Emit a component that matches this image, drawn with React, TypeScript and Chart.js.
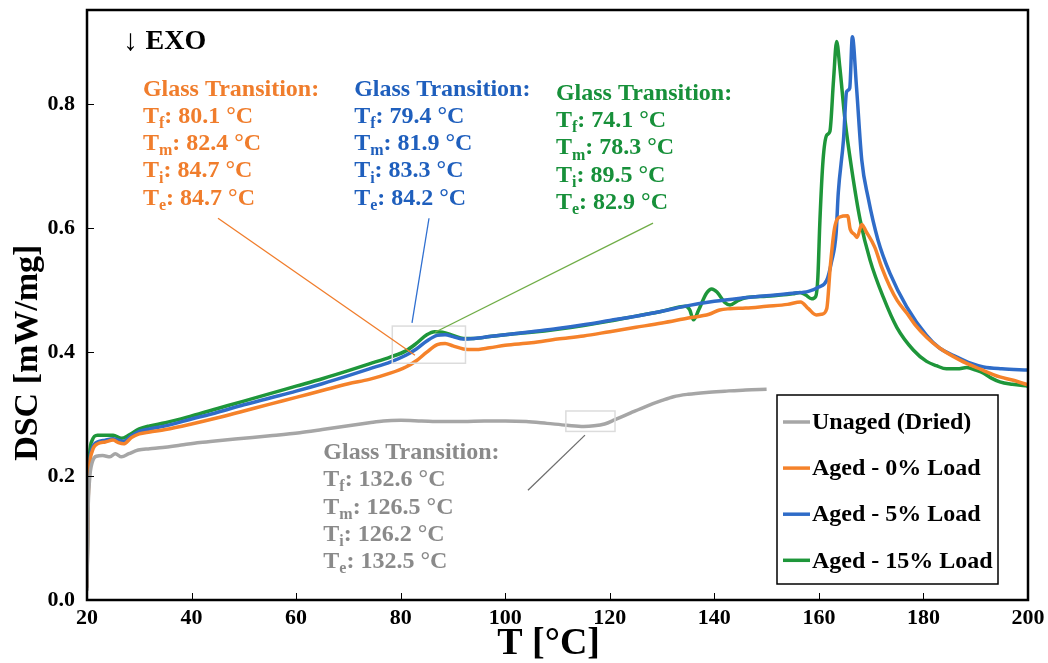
import React, { useEffect, useRef } from 'react';
import { Chart, registerables } from 'chart.js';

Chart.register(...registerables);

const SERIF = "'Liberation Serif', 'Times New Roman', serif";

// ---- Data: temperature [°C] and heat flow [mW/mg] per sample ----
const unagedT = [20.0, 20.2, 20.5, 21.0, 21.8, 23.0, 24.4, 25.4, 26.6, 28.0, 29.8, 32.0, 34.5, 38.0, 41.6, 45.0, 50.0, 55.0, 60.7, 65.0, 70.0, 74.0, 76.7, 80.0, 84.0, 88.0, 92.0, 96.0, 100.0, 104.0, 108.0, 111.8, 115.0, 117.0, 119.0, 121.0, 124.0, 127.1, 130.0, 132.2, 135.0, 138.5, 142.0, 146.0, 150.0];
const unagedDSC = [0.015, 0.14, 0.195, 0.222, 0.232, 0.233, 0.231, 0.236, 0.231, 0.236, 0.242, 0.244, 0.246, 0.25, 0.254, 0.257, 0.261, 0.265, 0.27, 0.275, 0.281, 0.286, 0.289, 0.29, 0.289, 0.288, 0.288, 0.289, 0.289, 0.288, 0.285, 0.282, 0.28, 0.281, 0.284, 0.291, 0.302, 0.313, 0.322, 0.328, 0.332, 0.335, 0.337, 0.339, 0.34];

const load0T = [20.0, 20.2, 20.5, 21.0, 22.0, 23.5, 25.0, 26.0, 27.0, 28.5, 30.0, 32.0, 35.0, 40.0, 45.0, 50.0, 55.0, 60.0, 65.0, 70.0, 74.0, 78.0, 81.0, 83.0, 85.0, 87.0, 88.5, 90.0, 92.0, 94.0, 97.0, 100.0, 105.0, 110.0, 115.0, 120.0, 125.0, 130.0, 135.0, 139.0, 141.0, 143.0, 146.0, 150.0, 154.0, 156.5, 158.0, 159.5, 160.5, 161.5, 162.2, 163.0, 164.0, 165.5, 166.0, 166.8, 167.3, 168.2, 169.0, 170.7, 172.0, 173.6, 175.0, 176.8, 178.5, 180.6, 183.0, 187.0, 191.0, 194.6, 197.0, 200.0];
const load0DSC = [0.02, 0.15, 0.215, 0.24, 0.252, 0.255, 0.258, 0.254, 0.252, 0.262, 0.268, 0.271, 0.275, 0.284, 0.294, 0.305, 0.316, 0.327, 0.338, 0.349, 0.356, 0.366, 0.376, 0.386, 0.4, 0.412, 0.414, 0.41, 0.405, 0.404, 0.407, 0.411, 0.415, 0.421, 0.426, 0.433, 0.44, 0.447, 0.455, 0.461, 0.468, 0.47, 0.471, 0.474, 0.477, 0.481, 0.47, 0.46, 0.461, 0.47, 0.54, 0.6, 0.618, 0.62, 0.598, 0.59, 0.585, 0.606, 0.595, 0.569, 0.537, 0.505, 0.483, 0.463, 0.443, 0.424, 0.407, 0.387, 0.372, 0.36, 0.355, 0.347];

const load5T = [20.0, 20.2, 20.5, 21.0, 22.0, 23.5, 25.0, 26.0, 27.0, 28.5, 30.0, 32.0, 35.0, 40.0, 45.0, 50.0, 55.0, 60.0, 65.0, 70.0, 74.0, 78.0, 81.0, 83.0, 85.0, 87.0, 88.5, 90.0, 92.0, 94.0, 97.0, 100.0, 105.0, 110.0, 115.0, 120.0, 125.0, 130.0, 135.0, 140.0, 145.0, 150.0, 155.0, 158.0, 160.0, 161.5, 162.4, 163.3, 163.7, 164.7, 165.3, 165.9, 166.4, 167.2, 168.2, 169.4, 171.3, 173.6, 176.8, 180.6, 183.0, 186.4, 189.0, 191.5, 195.0, 200.0];
const load5DSC = [0.02, 0.16, 0.222, 0.245, 0.255, 0.258, 0.26, 0.258, 0.256, 0.265, 0.272, 0.276, 0.281, 0.292, 0.303, 0.315, 0.326, 0.337, 0.349, 0.362, 0.373, 0.384, 0.395, 0.405, 0.418, 0.427, 0.428, 0.425, 0.421, 0.422, 0.425, 0.428, 0.433, 0.438, 0.444, 0.451, 0.458, 0.466, 0.475, 0.482, 0.487, 0.491, 0.495, 0.498, 0.505, 0.516, 0.545, 0.592, 0.656, 0.742, 0.82, 0.826, 0.909, 0.827, 0.71, 0.65, 0.581, 0.527, 0.473, 0.427, 0.407, 0.392, 0.382, 0.376, 0.373, 0.371];

const load15T = [20.0, 20.2, 20.5, 21.0, 22.0, 23.5, 25.0, 26.6, 28.0, 30.0, 32.0, 35.0, 40.0, 45.0, 50.0, 55.0, 60.0, 65.0, 70.0, 74.0, 78.0, 81.0, 83.0, 85.0, 86.5, 88.0, 90.0, 92.0, 94.0, 97.0, 100.0, 105.0, 110.0, 115.0, 120.0, 125.0, 130.0, 134.5, 135.3, 136.0, 137.0, 138.5, 139.5, 140.5, 142.0, 143.0, 144.5, 146.2, 150.0, 155.0, 156.4, 157.5, 158.6, 159.4, 159.8, 160.2, 160.8, 161.5, 162.1, 162.8, 163.4, 164.0, 165.0, 166.3, 167.9, 169.8, 172.3, 174.9, 178.1, 180.6, 182.5, 184.4, 186.5, 188.3, 190.0, 191.5, 193.0, 194.6, 197.0, 200.0];
const load15DSC = [0.03, 0.17, 0.235, 0.258, 0.266, 0.266, 0.266, 0.261, 0.266, 0.276, 0.281, 0.286, 0.297, 0.309, 0.321, 0.333, 0.345, 0.357, 0.37, 0.381, 0.392, 0.402, 0.414, 0.428, 0.433, 0.432, 0.427, 0.422, 0.422, 0.425, 0.428, 0.432, 0.437, 0.443, 0.45, 0.458, 0.466, 0.474, 0.468, 0.452, 0.468, 0.495, 0.502, 0.497, 0.48, 0.476, 0.483, 0.488, 0.49, 0.494, 0.496, 0.492, 0.486, 0.49, 0.52, 0.613, 0.71, 0.75, 0.756, 0.839, 0.901, 0.86, 0.774, 0.694, 0.613, 0.548, 0.489, 0.44, 0.403, 0.385, 0.378, 0.373, 0.373, 0.375, 0.371, 0.366, 0.358, 0.352, 0.348, 0.345];

const seriesNames = ['Unaged (Dried)', 'Aged - 0% Load', 'Aged - 5% Load', 'Aged - 15% Load'];
const seriesColors = ['#a6a6a6', '#f5822a', '#2f6cc8', '#1e963a'];

const xTickValues = [20, 40, 60, 80, 100, 120, 140, 160, 180, 200];
const yTickValues = [0.0, 0.2, 0.4, 0.6, 0.8];
const xTitle = 'T [°C]';
const yTitle = 'DSC [mW/mg]';

// Glass transition readouts: T_f, T_m, T_i, T_e in °C
const gtSubscripts = ['f', 'm', 'i', 'e'];
const gtUnaged = ['132.6', '126.5', '126.2', '132.5'];
const gtLoad0 = ['80.1', '82.4', '84.7', '84.7'];
const gtLoad5 = ['79.4', '81.9', '83.3', '84.2'];
const gtLoad15 = ['74.1', '78.3', '89.5', '82.9'];

// Placement of the readout blocks (data coordinates of first line, left edge)
const gtBlocks = [
  { values: gtLoad0, color: '#f07d2c', t: 30.7, v: 0.824 },
  { values: gtLoad5, color: '#1f5fbd', t: 71.1, v: 0.824 },
  { values: gtLoad15, color: '#17903a', t: 109.7, v: 0.817 },
  { values: gtUnaged, color: '#8a8a8a', t: 65.2, v: 0.2376 },
];

// Regions of interest and the leader lines tying them to their readouts
const focusBoxes = [
  { t0: 78.4, t1: 92.4, v0: 0.382, v1: 0.442 },
  { t0: 111.6, t1: 121.0, v0: 0.272, v1: 0.305 },
];
const leaders = [
  { color: '#f07d2c', a: [45.06, 0.616], b: [82.74, 0.395] },
  { color: '#2f6fd0', a: [85.42, 0.616], b: [82.17, 0.447] },
  { color: '#70ad47', a: [128.27, 0.608], b: [86.57, 0.432] },
  { color: '#6e6e6e', a: [115.26, 0.266], b: [104.35, 0.177] },
];

const toPoints = (t: number[], v: number[]) => t.map((x, i) => ({ x, y: v[i] }));

const notesPlugin = {
  id: 'dscNotes',
  afterDatasetsDraw(chart: any) {
    const { ctx, scales } = chart;
    const px = (t: number) => scales.x.getPixelForValue(t);
    const py = (v: number) => scales.y.getPixelForValue(v);
    ctx.save();

    ctx.strokeStyle = '#dcdcdc';
    ctx.lineWidth = 1.5;
    for (const b of focusBoxes) {
      ctx.strokeRect(px(b.t0), py(b.v1), px(b.t1) - px(b.t0), py(b.v0) - py(b.v1));
    }

    ctx.lineWidth = 1.3;
    for (const l of leaders) {
      ctx.strokeStyle = l.color;
      ctx.beginPath();
      ctx.moveTo(px(l.a[0]), py(l.a[1]));
      ctx.lineTo(px(l.b[0]), py(l.b[1]));
      ctx.stroke();
    }

    // "↓ EXO" marker
    ctx.fillStyle = '#000';
    ctx.textBaseline = 'middle';
    ctx.textAlign = 'left';
    ctx.font = `30px ${SERIF}`;
    ctx.fillText('↓', px(26.9), py(0.9));
    const arrowW = ctx.measureText('↓ ').width;
    ctx.font = `bold 28px ${SERIF}`;
    ctx.fillText('EXO', px(26.9) + arrowW, py(0.9));

    // Glass transition readouts
    const size = 24;
    const lineGap = 27.3;
    for (const blk of gtBlocks) {
      const x0 = px(blk.t);
      const y0 = py(blk.v);
      ctx.fillStyle = blk.color;
      ctx.font = `bold ${size}px ${SERIF}`;
      ctx.fillText('Glass Transition:', x0, y0);
      blk.values.forEach((val, i) => {
        const y = y0 + lineGap * (i + 1);
        let x = x0;
        ctx.font = `bold ${size}px ${SERIF}`;
        ctx.fillText('T', x, y);
        x += ctx.measureText('T').width;
        ctx.font = `bold ${Math.round(size * 0.65)}px ${SERIF}`;
        ctx.fillText(gtSubscripts[i], x, y + size * 0.3);
        x += ctx.measureText(gtSubscripts[i]).width;
        ctx.font = `bold ${size}px ${SERIF}`;
        ctx.fillText(`: ${val} °C`, x, y);
      });
    }
    ctx.restore();
  },
  afterDraw(chart: any) {
    const { ctx, chartArea, scales } = chart;
    ctx.save();

    // inward tick marks
    ctx.strokeStyle = '#000';
    ctx.lineWidth = 1;
    for (const t of xTickValues) {
      const x = Math.round(scales.x.getPixelForValue(t)) + 0.5;
      ctx.beginPath();
      ctx.moveTo(x, chartArea.bottom);
      ctx.lineTo(x, chartArea.bottom - 7);
      ctx.stroke();
    }
    for (const v of yTickValues) {
      const y = Math.round(scales.y.getPixelForValue(v)) + 0.5;
      ctx.beginPath();
      ctx.moveTo(chartArea.left, y);
      ctx.lineTo(chartArea.left + 7, y);
      ctx.stroke();
    }

    // plot frame
    ctx.lineWidth = 2.5;
    ctx.strokeRect(chartArea.left, chartArea.top, chartArea.right - chartArea.left, chartArea.bottom - chartArea.top);

    // axis titles
    ctx.fillStyle = '#000';
    ctx.textAlign = 'center';
    ctx.textBaseline = 'middle';
    ctx.font = `bold 38px ${SERIF}`;
    ctx.fillText(xTitle, scales.x.getPixelForValue(108.3), 644);
    ctx.save();
    ctx.translate(28, scales.y.getPixelForValue(0.399));
    ctx.rotate(-Math.PI / 2);
    ctx.font = `bold 34px ${SERIF}`;
    ctx.fillText(yTitle, 0, 0);
    ctx.restore();

    // legend box
    const lw = 221;
    const lh = 189;
    const lx = chartArea.right - 30 - lw;
    const ly = chartArea.bottom - 16 - lh;
    ctx.fillStyle = '#fff';
    ctx.fillRect(lx, ly, lw, lh);
    ctx.lineWidth = 1.5;
    ctx.strokeStyle = '#000';
    ctx.strokeRect(lx, ly, lw, lh);
    ctx.font = `bold 24px ${SERIF}`;
    ctx.textBaseline = 'middle';
    ctx.textAlign = 'left';
    seriesNames.forEach((name, i) => {
      const y = ly + 27 + i * 46.1;
      ctx.strokeStyle = seriesColors[i];
      ctx.lineWidth = 3.5;
      ctx.beginPath();
      ctx.moveTo(lx + 6, y);
      ctx.lineTo(lx + 33, y);
      ctx.stroke();
      ctx.fillStyle = '#000';
      ctx.fillText(name, lx + 35, y + 1);
    });
    ctx.restore();
  },
};

export default function App() {
  const canvasRef = useRef<HTMLCanvasElement | null>(null);

  useEffect(() => {
    if (!canvasRef.current) return;
    const series = [
      toPoints(unagedT, unagedDSC),
      toPoints(load0T, load0DSC),
      toPoints(load5T, load5DSC),
      toPoints(load15T, load15DSC),
    ];
    const chart = new Chart(canvasRef.current, {
      type: 'scatter',
      data: {
        datasets: series.map((pts, i) => ({
          label: seriesNames[i],
          data: pts,
          showLine: true,
          borderColor: seriesColors[i],
          backgroundColor: seriesColors[i],
          borderWidth: 3.5,
          pointRadius: 0,
          cubicInterpolationMode: 'monotone' as const,
        })),
      },
      options: {
        animation: false,
        responsive: false,
        layout: { padding: { left: 0, right: 20, top: 10, bottom: 0 } },
        plugins: { legend: { display: false }, tooltip: { enabled: false } },
        scales: {
          x: {
            type: 'linear',
            min: 20,
            max: 200,
            afterBuildTicks: (s: any) => {
              s.ticks = xTickValues.map((value) => ({ value }));
            },
            afterFit: (s: any) => {
              s.height = 63;
              s.paddingLeft = 0;
              s.paddingRight = 0;
            },
            grid: { display: false, drawTicks: false },
            border: { display: false },
            ticks: {
              color: '#000',
              padding: 5,
              maxRotation: 0,
              autoSkip: false,
              font: { family: SERIF, size: 22, weight: 'bold' },
              callback: (v: any) => String(v),
            },
            title: { display: false },
          },
          y: {
            type: 'linear',
            min: 0,
            max: 0.952,
            afterBuildTicks: (s: any) => {
              s.ticks = yTickValues.map((value) => ({ value }));
            },
            afterFit: (s: any) => {
              s.width = 87;
              s.paddingTop = 0;
              s.paddingBottom = 0;
            },
            grid: { display: false, drawTicks: false },
            border: { display: false },
            ticks: {
              color: '#000',
              padding: 12,
              font: { family: SERIF, size: 22, weight: 'bold' },
              callback: (v: any) => Number(v).toFixed(1),
            },
            title: { display: false },
          },
        },
      },
      plugins: [notesPlugin],
    });
    return () => chart.destroy();
  }, []);

  return (
    <div style={{ position: 'absolute', left: 0, top: 0, width: 1048, height: 663, background: '#fff' }}>
      <canvas ref={canvasRef} width={1048} height={663} />
    </div>
  );
}
